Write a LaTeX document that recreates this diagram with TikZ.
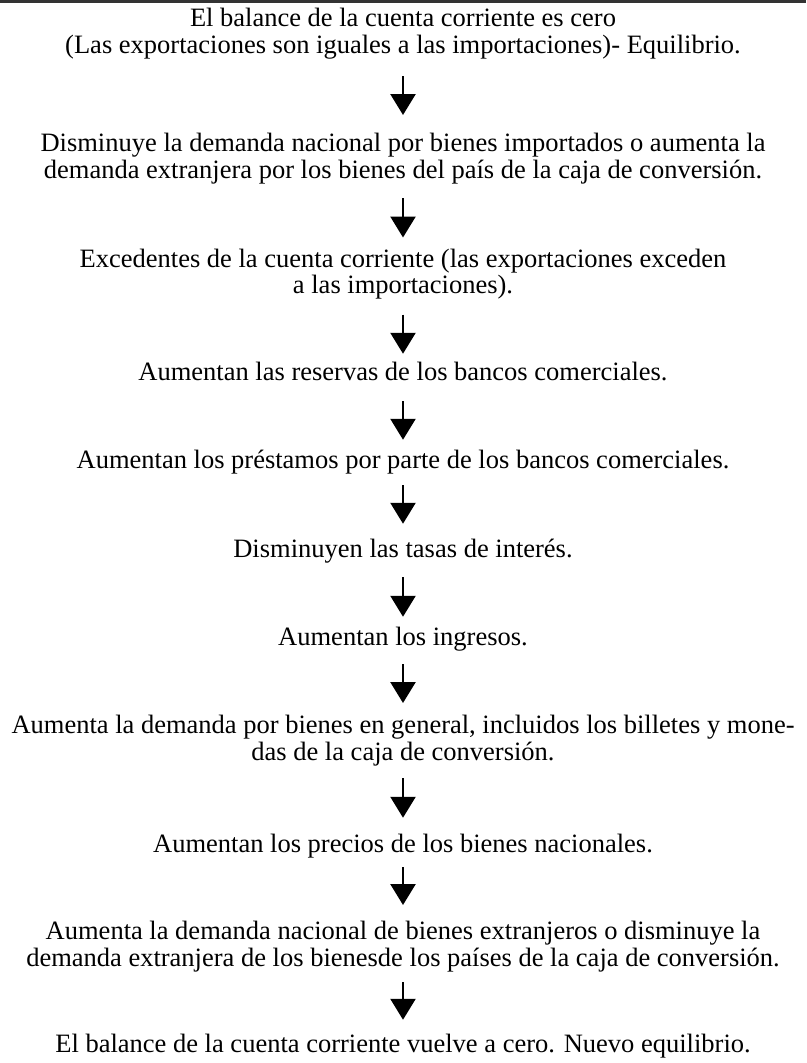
\documentclass[tikz,border=0pt]{standalone}
\usepackage{fontspec}
\setmainfont{Liberation Serif}
\usetikzlibrary{arrows.meta}
\tikzset{
  txt/.style={align=center, inner sep=0pt, outer sep=0pt, font=\fontsize{26.5}{26.5}\selectfont},
  flow/.style={line width=2.5pt, -{Triangle[width=25pt,length=21pt]}},
}
\begin{document}
\begin{tikzpicture}[x=1pt,y=1pt]
\useasboundingbox (0,0) rectangle (806,-1063);
\fill[white] (0,0) rectangle (806,-1063);
\draw[line width=2.5pt, black!80] (0,-1.25) -- (806,-1.25);
\node[txt] (n1) at (403,-34.5) {\strut El balance de la cuenta corriente es cero\\\strut (Las exportaciones son iguales a las importaciones)- Equilibrio.};
\node[txt] (n2) at (403,-159.5) {\strut Disminuye la demanda nacional por bienes importados o aumenta la\\\strut demanda extranjera por los bienes del país de la caja de conversión.};
\node[txt] (n3) at (403,-275) {\strut Excedentes de la cuenta corriente (las exportaciones exceden\\\strut a las importaciones).};
\node[txt] (n4) at (403,-375) {\strut Aumentan las reservas de los bancos comerciales.};
\node[txt] (n5) at (403,-463) {\strut Aumentan los préstamos por parte de los bancos comerciales.};
\node[txt] (n6) at (403,-552) {\strut Disminuyen las tasas de interés.};
\node[txt] (n7) at (403,-640) {\strut Aumentan los ingresos.};
\node[txt] (n8) at (403,-741.5) {\strut Aumenta la demanda por bienes en general, incluidos los billetes y mone-\\\strut das de la caja de conversión.};
\node[txt] (n9) at (403,-847) {\strut Aumentan los precios de los bienes nacionales.};
\node[txt] (n10) at (403,-947.5) {\strut Aumenta la demanda nacional de bienes extranjeros o disminuye la\\\strut demanda extranjera de los bienesde los países de la caja de conversión.};
\node[txt] (n11) at (403,-1047) {\strut El balance de la cuenta corriente vuelve a cero. Nuevo equilibrio.};
\draw[flow, shorten <=15pt, shorten >=18pt] (n1) -- (n2);
\draw[flow, shorten <=12pt, shorten >=11pt] (n2) -- (n3);
\draw[flow, shorten <=13pt, shorten >=8pt] (n3) -- (n4);
\draw[flow, shorten <=13pt, shorten >=10pt] (n4) -- (n5);
\draw[flow, shorten <=9pt, shorten >=15pt] (n5) -- (n6);
\draw[flow, shorten <=12pt, shorten >=10pt] (n6) -- (n7);
\draw[flow, shorten <=11pt, shorten >=12pt] (n7) -- (n8);
\draw[flow, shorten <=10pt, shorten >=16pt] (n8) -- (n9);
\draw[flow, shorten <=7pt, shorten >=16pt] (n9) -- (n10);
\draw[flow, shorten <=8pt, shorten >=14pt] (n10) -- (n11);
\end{tikzpicture}
\end{document}
